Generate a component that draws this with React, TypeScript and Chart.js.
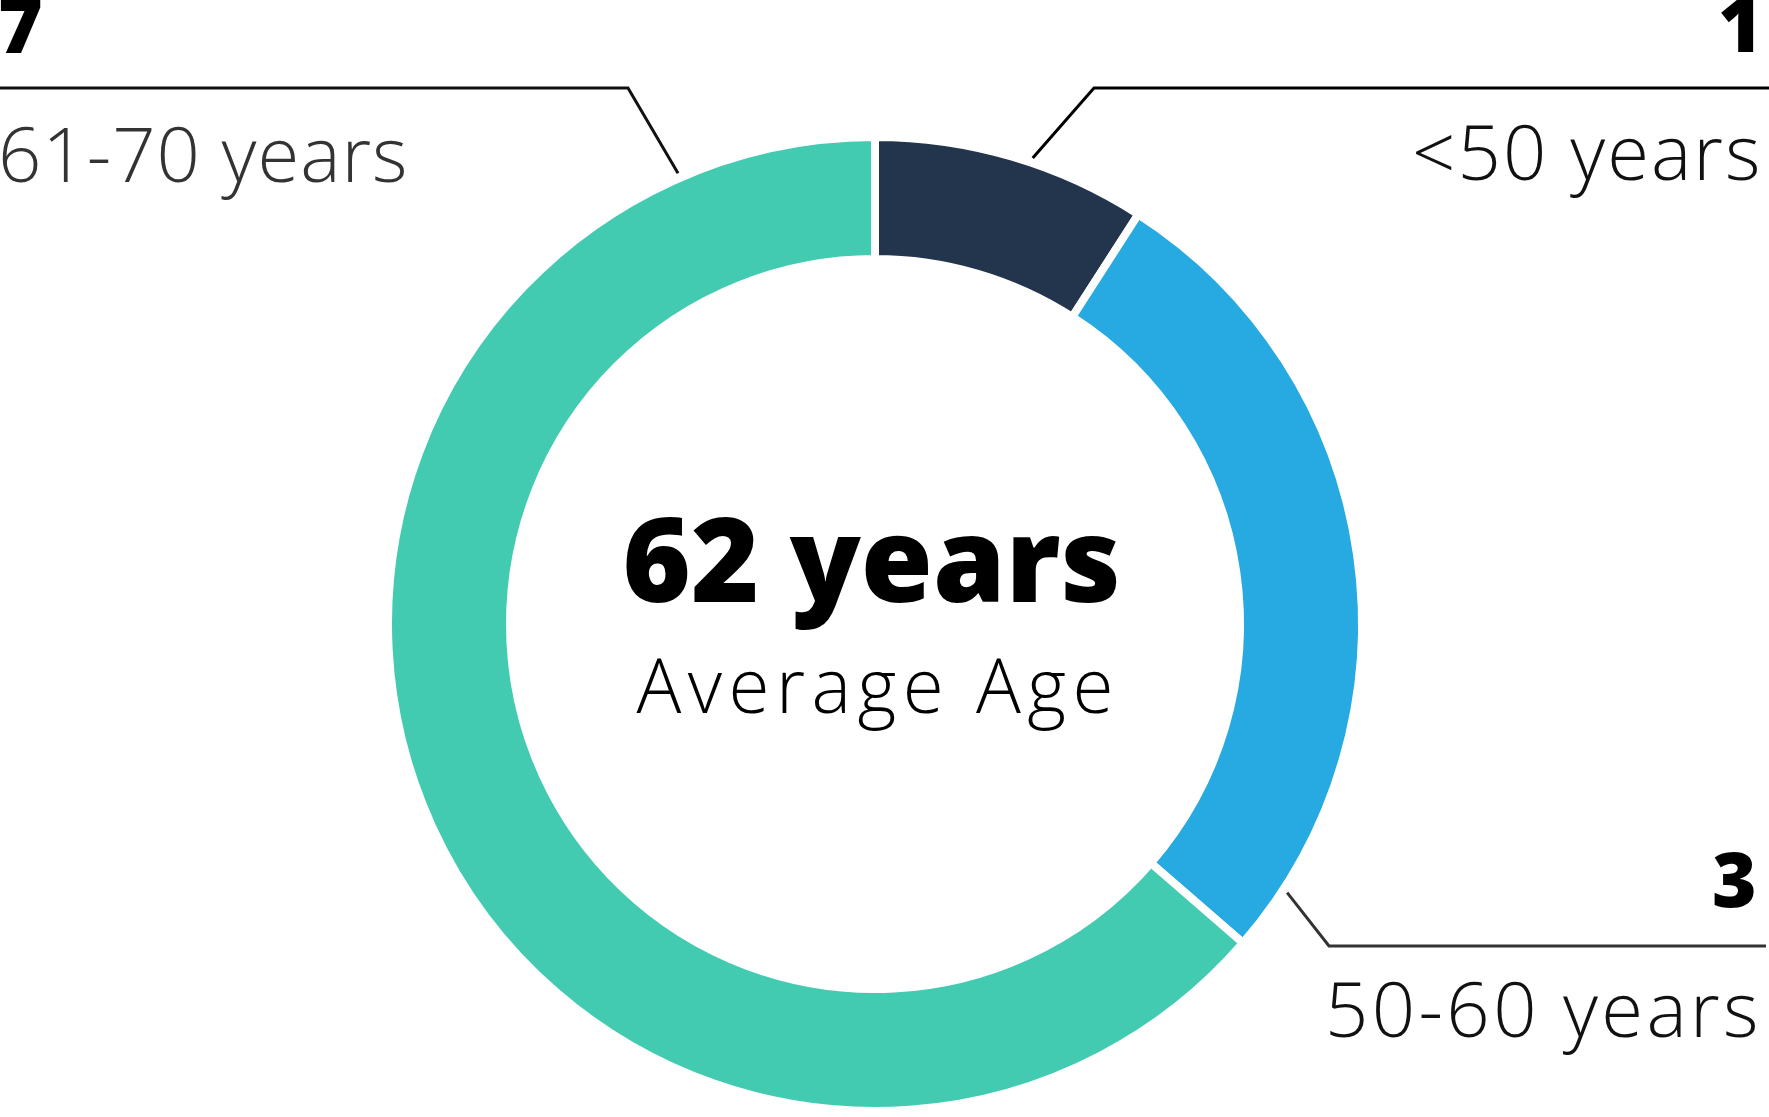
import React, { useEffect, useRef } from "react";
import { Chart, registerables } from "chart.js";

Chart.register(...registerables);

// Members by age group
const ageGroups = ["<50 years", "50-60 years", "61-70 years"];
const memberCounts = [1, 3, 7];
const sliceColors = ["#23344D", "#26AAE1", "#43CBB2"];

// Centre caption
const averageAgeLabel = "62 years";
const averageAgeCaption = "Average Age";

const CANVAS_W = 1769;
const CANVAS_H = 1117;

const LIGHT_FAMILY = "'Open Sans', 'Noto Sans', sans-serif";
const BOLD_FAMILY = "'Open Sans', 'Noto Sans', sans-serif";

type Align = "left" | "right" | "center";

// Callout geometry for each slice: where the leader leaves the ring, the elbow,
// and where the count and label sit.
const callouts = [
  {
    angle: 18.7, elbowX: 1094, lineY: 88, lineEnd: 1769, lineColor: "#000",
    countX: 1754, countY: 52, countAlign: "right" as Align,
    labelX: 1757, labelY: 180, labelAlign: "right" as Align, labelWidth: 341, labelColor: "#111",
  },
  {
    angle: 123.1, elbowX: 1329, lineY: 946, lineEnd: 1766, lineColor: "#333",
    countX: 1754, countY: 907, countAlign: "right" as Align,
    labelX: 1755, labelY: 1037, labelAlign: "right" as Align, labelWidth: 425, labelColor: "#111",
  },
  {
    angle: -23.6, elbowX: 628, lineY: 88, lineEnd: 0, lineColor: "#111",
    countX: 0, countY: 53, countAlign: "left" as Align,
    labelX: 2, labelY: 182, labelAlign: "left" as Align, labelWidth: 402, labelColor: "#333",
  },
];

function drawText(
  ctx: CanvasRenderingContext2D,
  text: string,
  o: { x: number; y: number; align: Align; weight: number; family: string; cap: number; width?: number; color: string }
) {
  ctx.save();
  ctx.textAlign = "left";
  ctx.textBaseline = "alphabetic";
  (ctx as any).letterSpacing = "0px";
  ctx.font = `${o.weight} 100px ${o.family}`;
  const capRatio = ctx.measureText("H").actualBoundingBoxAscent / 100;
  const size = o.cap / capRatio;
  ctx.font = `${o.weight} ${size}px ${o.family}`;
  const m = ctx.measureText(text);
  const inkW = m.actualBoundingBoxLeft + m.actualBoundingBoxRight;
  if (o.width && text.length > 1) {
    const spacing = (o.width - inkW) / (text.length - 1);
    (ctx as any).letterSpacing = `${spacing}px`;
  }
  const totalW = o.width ?? inkW;
  const left = o.align === "left" ? o.x : o.align === "right" ? o.x - totalW : o.x - totalW / 2;
  ctx.fillStyle = o.color;
  ctx.fillText(text, left + m.actualBoundingBoxLeft, o.y);
  ctx.restore();
}

const calloutPlugin = {
  id: "ageCallouts",
  afterDatasetsDraw(chart: any) {
    const ctx: CanvasRenderingContext2D = chart.ctx;
    const meta = chart.getDatasetMeta(0);
    const arc = meta.data[0];
    const { x: cx, y: cy, outerRadius } = arc.getProps(["x", "y", "outerRadius"], true);
    const anchorR = outerRadius + 5;

    callouts.forEach((c, i) => {
      const rad = (c.angle * Math.PI) / 180;
      const ax = cx + anchorR * Math.sin(rad);
      const ay = cy - anchorR * Math.cos(rad);
      ctx.save();
      ctx.strokeStyle = c.lineColor;
      ctx.lineWidth = 3;
      ctx.lineJoin = "miter";
      ctx.beginPath();
      ctx.moveTo(ax, ay);
      ctx.lineTo(c.elbowX, c.lineY);
      ctx.lineTo(c.lineEnd, c.lineY);
      ctx.stroke();
      ctx.restore();

      drawText(ctx, String(memberCounts[i]), {
        x: c.countX, y: c.countY, align: c.countAlign, weight: 800,
        family: BOLD_FAMILY, cap: 55, color: "#000",
      });
      drawText(ctx, ageGroups[i], {
        x: c.labelX, y: c.labelY, align: c.labelAlign, weight: 350,
        family: LIGHT_FAMILY, cap: 54, width: c.labelWidth, color: c.labelColor,
      });
    });

    drawText(ctx, averageAgeLabel, {
      x: cx - 4, y: cy - 22, align: "center", weight: 800,
      family: BOLD_FAMILY, cap: 84, width: 491, color: "#000",
    });
    drawText(ctx, averageAgeCaption, {
      x: cx - 2, y: cy + 89, align: "center", weight: 300,
      family: LIGHT_FAMILY, cap: 53, width: 473, color: "#000",
    });
  },
};

export default function App() {
  const canvasRef = useRef<HTMLCanvasElement | null>(null);

  useEffect(() => {
    const canvas = canvasRef.current;
    if (!canvas) return;
    const chart = new Chart(canvas, {
      type: "doughnut",
      data: {
        labels: ageGroups,
        datasets: [
          {
            data: memberCounts,
            backgroundColor: sliceColors,
            borderColor: "#ffffff",
            borderWidth: 8,
            hoverOffset: 0,
          },
        ],
      },
      options: {
        responsive: false,
        animation: false,
        radius: 487,
        cutout: "74.95%",
        layout: { padding: { left: 0, right: 19, top: 131, bottom: 0 } },
        plugins: {
          legend: { display: false },
          tooltip: { enabled: false },
        },
        events: [],
      } as any,
      plugins: [calloutPlugin],
    });
    return () => chart.destroy();
  }, []);

  return (
    <div style={{ position: "fixed", left: 0, top: 0, width: CANVAS_W, height: CANVAS_H, background: "#fff" }}>
      <canvas ref={canvasRef} width={CANVAS_W} height={CANVAS_H} style={{ display: "block" }} />
    </div>
  );
}
